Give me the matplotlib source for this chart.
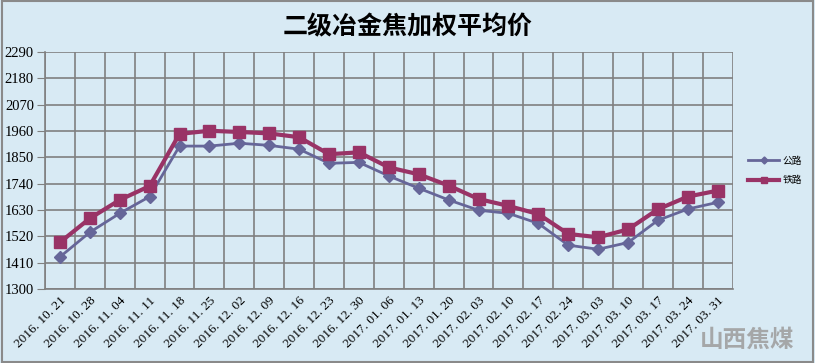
import matplotlib
matplotlib.use("Agg")
import matplotlib.pyplot as plt
from matplotlib.patches import Rectangle

plt.rcParams['font.family'] = ['Noto Sans CJK SC', 'DejaVu Sans']

dates = ["2016.10.21", "2016.10.28", "2016.11.04", "2016.11.11", "2016.11.18", "2016.11.25",
         "2016.12.02", "2016.12.09", "2016.12.16", "2016.12.23", "2016.12.30", "2017.01.06",
         "2017.01.13", "2017.01.20", "2017.02.03", "2017.02.10", "2017.02.17", "2017.02.24",
         "2017.03.03", "2017.03.10", "2017.03.17", "2017.03.24", "2017.03.31"]
road = [1434, 1537, 1616, 1686, 1897, 1897, 1909, 1900, 1884, 1825, 1829, 1772,
        1721, 1672, 1629, 1616, 1574, 1483, 1466, 1494, 1587, 1634, 1662]
rail = [1495, 1595, 1672, 1730, 1948, 1961, 1956, 1950, 1934, 1863, 1871, 1808,
        1779, 1732, 1676, 1647, 1613, 1530, 1516, 1549, 1633, 1686, 1711]
yticks = [1300, 1410, 1520, 1630, 1740, 1850, 1960, 2070, 2180, 2290]
title = "二级冶金焦加权平均价"
labels = ["公路", "铁路"]

bg = "#d8eaf4"
fig = plt.figure(figsize=(8.15, 3.63), dpi=100, facecolor=bg)
fig.patches.append(Rectangle((0.002, 0.003), 0.996, 0.994, transform=fig.transFigure,
                             fill=False, edgecolor="#8a8a8a", linewidth=1.5))
ax = fig.add_axes([0.0552, 0.2039, 0.8438, 0.6528])
ax.set_facecolor(bg)

x = list(range(len(dates)))
ax.plot(x, road, color="#666699", linewidth=2, marker="D", markersize=6.5,
        markerfacecolor="#666699", markeredgecolor="#666699", label=labels[0], zorder=3)
ax.plot(x, rail, color="#993366", linewidth=3, marker="s", markersize=9,
        markerfacecolor="#993366", markeredgecolor="#993366", label=labels[1], zorder=4)

ax.set_xlim(-0.5, len(dates) - 0.5)
ax.set_ylim(1300, 2290)
ax.set_yticks(yticks)
ax.set_yticklabels([str(v) for v in yticks], family=['Liberation Serif'], fontsize=10.5)
ax.set_xticks(x)
ax.set_xticklabels([d.replace(".", ". ") for d in dates], rotation=45, ha="right",
                   rotation_mode="anchor", family=['Liberation Serif'], fontsize=9.5)
ax.set_xticks([i - 0.5 for i in range(len(dates) + 1)], minor=True)
ax.grid(True, which="minor", axis="x", color="#808080", linewidth=1.2)
ax.grid(True, which="major", axis="y", color="#808080", linewidth=1.2)
ax.tick_params(axis="x", which="both", length=0, pad=4)
ax.tick_params(axis="y", length=6, color="#808080", pad=2)
for s in ["top", "right"]:
    ax.spines[s].set_visible(False)
for s in ["left", "bottom"]:
    ax.spines[s].set_color("#808080")
    ax.spines[s].set_linewidth(1.2)
ax.set_axisbelow(True)

fig.text(0.5, 0.925, title, ha="center", va="center", fontsize=18, fontweight="bold")

leg = ax.legend(loc="center left", bbox_to_anchor=(1.01, 0.5), frameon=False,
                fontsize=7, handlelength=3.2, markerscale=0.55, labelspacing=1.0,
                handletextpad=0.3)

fig.text(0.975, 0.03, "山西焦煤", ha="right", va="bottom", fontsize=17,
         color="#a0a0a0", alpha=0.9, fontweight="bold")

fig.savefig("out.png", dpi=100, facecolor=bg)
